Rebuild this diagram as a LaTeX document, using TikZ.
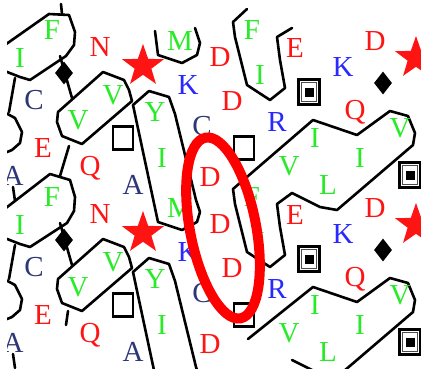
\documentclass[tikz,border=0pt]{standalone}
\usepackage{fontspec}
\setmainfont{Liberation Serif}
\usetikzlibrary{shapes.geometric}
\definecolor{rd}{RGB}{255,20,20}
\definecolor{gn}{RGB}{40,235,40}
\definecolor{bl}{RGB}{40,40,255}
\definecolor{nv}{RGB}{45,55,120}
\tikzset{
  aa/.style={inner sep=0pt, font=\fontsize{29}{29}\selectfont},
  hyd/.style={aa, text=gn},
  acid/.style={aa, text=rd},
  bas/.style={aa, text=bl},
  oth/.style={aa, text=nv},
  clu/.style={draw=black, line width=2.6, line join=round, line cap=round},
  gly/.style={star, star points=5, star point ratio=2.5, fill=rd, draw=none, minimum size=44, inner sep=0pt},
  pro/.style={diamond, fill=black, draw=none, minimum width=18, minimum height=23, inner sep=0pt},
  ser/.style={draw=black, line width=2.2, minimum width=20, minimum height=23, inner sep=0pt},
  thr/.style={draw=black, line width=2.2, minimum width=21, minimum height=25, inner sep=0pt},
  thrin/.style={draw=black!70, line width=0.7, minimum width=15, minimum height=19, inner sep=0pt},
  thrdot/.style={fill=black, minimum size=9, inner sep=0pt},
}
\newcommand\hcalines{%
  \draw[clu] (15,78) -- (9,112);
  \draw[clu] (2,111) -- (15,118) -- (22,132) -- (20,143) -- (12,150) -- (2,154);
  \draw[clu] (13,187) -- (15,201);
  % connector through the diamond
  \draw[clu] (60,56) -- (72,98);
  % V V cluster
  \draw[clu] (58,112) -- (103,72) -- (124,80) -- (129,90) -- (132,101) -- (82,144) -- (62,136) -- (57,122) -- cycle;
  % Y I M cluster
  \draw[clu] (133,105) -- (149,91) -- (169,97) -- (175,114) -- (196,200) -- (200,212) -- (197,222) -- (182,230) -- (158,222) -- cycle;
}
\newcommand\hcaletters{%
  \node[hyd] (F) at (52,30) {F};
  \node[hyd] (I) at (20,58) {I};
  \node[acid] (N) at (100,47) {N};
  \node[hyd] (M) at (180,41) {M};
  \node[bas] (K) at (188,85) {K};
  \node[oth] (C) at (34,100) {C};
  \node[hyd] (V) at (113,95) {V};
  \node[hyd] (Vb) at (78,120) {V};
  \node[hyd] (Y) at (155,112) {Y};
  \node[oth] (Cb) at (202,126) {C};
  \node[acid] (E) at (43,148) {E};
  \node[hyd] (Ib) at (162,158) {I};
  \node[acid] (Q) at (90,168) {Q};
  \node[oth] (A) at (133,185) {A};
  \node[oth] (Ab) at (13,176) {A};
  \node[acid] (D) at (220,57) {D};
  \node[acid] (Db) at (232,101) {D};
  \node[hyd] (Fb) at (252,30) {F};
  \node[hyd] (Ic) at (260,75) {I};
  \node[acid] (Eb) at (295,48) {E};
  \node[bas] (Kb) at (343,67) {K};
  \node[acid] (Dc) at (375,41) {D};
  \node[bas] (R) at (277,122) {R};
  \node[acid] (Qb) at (355,112) {Q};
  \node[hyd] (Id) at (315,138) {I};
  \node[hyd] (Ie) at (360,158) {I};
  \node[hyd] (Vc) at (400,128) {V};
  \node[hyd] (Vd) at (289,166) {V};
  \node[hyd] (L) at (328,185) {L};
  \node[acid] (Dd) at (210,177) {D};
  \node[gly] (G) at (143,66) {};
  \node[gly] (Gb) at (416,58) {};
  \node[pro] (P) at (64,73) {};
  \node[pro] (Pb) at (383,83) {};
  \node[ser] (S) at (123,138) {};
  \node[ser] (Sb) at (244,148) {};
  \node[thr] (T) at (309,92) {};
  \node[thrin] (Ti) at (309,92) {};
  \node[thrdot] (Td) at (309,92) {};
  \node[thr] (Tb) at (410,175) {};
  \node[thrin] (Tbi) at (410,175) {};
  \node[thrdot] (Tbd) at (410,175) {};
}
\begin{document}
\begin{tikzpicture}[x=1pt, y=-1pt]
  \useasboundingbox (0,0) rectangle (421,368);
  \fill[white] (0,0) rectangle (421,368);
  \clip (7,0) rectangle (421,368);
  % lines of the first copy
  \hcalines
  \draw[clu] (2,47) -- (49,14) -- (69,15) -- (75,32) -- (74,45) -- (66,56) -- (30,80) -- (20,77) -- (2,70);
  \draw[clu] (61,4) -- (62,14);
  \draw[clu] (69,146) -- (60,176);
  \draw[clu] (155,31) -- (158,55) -- (182,63) -- (197,55) -- (200,43) -- (195,28);
  \draw[clu] (247,9) -- (233,22) -- (235,37) -- (247,85) -- (270,100) -- (285,88) -- (280,60) -- (277,37) -- (292,28);
  \draw[clu] (313,120) -- (357,135) -- (390,111) -- (408,116) -- (415,133) -- (413,145) -- (337,210) -- (320,207) -- (292,193) -- (277,204) -- (280,227) -- (285,255) -- (270,267) -- (247,252) -- (235,204) -- (233,189) -- cycle;
  % lines of the second copy
  \begin{scope}[shift={(0,167)}]
    \hcalines
  \end{scope}
  \draw[clu] (2,211) -- (50,174) -- (70,180) -- (75,197) -- (74,211) -- (67,223) -- (30,247) -- (20,244) -- (2,237);
  \draw[clu] (68,311) -- (66,325);
  \draw[clu] (248,339) -- (313,287) -- (357,302) -- (390,278) -- (408,283) -- (415,300) -- (413,312) -- (337,377) -- (320,374) -- (292,360);
  \begin{scope}[name prefix=a-]
    \hcaletters
  \end{scope}
  \begin{scope}[shift={(0,167)}, name prefix=b-]
    \hcaletters
  \end{scope}
  % highlight
  \coordinate (hl) at (223,228);
  \draw[red, line width=10] [rotate around={11:(hl)}] (hl) ellipse [x radius=33, y radius=92];
\end{tikzpicture}
\end{document}
